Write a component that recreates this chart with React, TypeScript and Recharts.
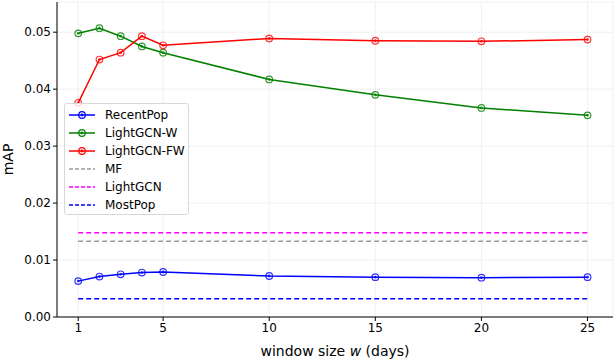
import React from 'react';
import {
  LineChart,
  Line,
  XAxis,
  YAxis,
  CartesianGrid,
} from 'recharts';

// window sizes (days)
const windowSizes = [1, 2, 3, 4, 5, 10, 15, 20, 25];
const recentPop = [0.0063, 0.0071, 0.0075, 0.0078, 0.0079, 0.0072, 0.007, 0.0069, 0.007];
const lightGcnW = [0.0498, 0.0507, 0.0493, 0.0475, 0.0464, 0.0417, 0.039, 0.0367, 0.0354];
const lightGcnFW = [0.0376, 0.0452, 0.0464, 0.0493, 0.0477, 0.0489, 0.0485, 0.0484, 0.0487];

// flat baselines, drawn from first to last window size
const baselineX = [1, 25];
const mf = [0.0133, 0.0133];
const lightGcn = [0.0148, 0.0148];
const mostPop = [0.0032, 0.0032];

const xTicks = [1, 5, 10, 15, 20, 25];
const yTicks = [0, 0.01, 0.02, 0.03, 0.04, 0.05];

const FONT = '"DejaVu Sans", sans-serif';

const rows = windowSizes.map((w, i) => ({
  w,
  recentPop: recentPop[i],
  lightGcnW: lightGcnW[i],
  lightGcnFW: lightGcnFW[i],
}));

const baseRows = (vals: number[]) => baselineX.map((w, i) => ({ w, v: vals[i] }));

const series = [
  { key: 'recentPop', name: 'RecentPop', color: '#0000ff', dashed: false },
  { key: 'lightGcnW', name: 'LightGCN-W', color: '#008000', dashed: false },
  { key: 'lightGcnFW', name: 'LightGCN-FW', color: '#ff0000', dashed: false },
  { key: 'mf', name: 'MF', color: '#999999', dashed: true },
  { key: 'lightGcn', name: 'LightGCN', color: '#ff00ff', dashed: true },
  { key: 'mostPop', name: 'MostPop', color: '#0000ff', dashed: true },
];

const makeDot = (color: string) => (props: any) => {
  const { cx, cy, key } = props;
  if (cx == null || cy == null) return <g key={key} />;
  return (
    <g key={key}>
      <circle cx={cx} cy={cy} r={3.3} fill="none" stroke={color} strokeWidth={1.2} strokeOpacity={0.8} />
      <circle cx={cx} cy={cy} r={1.4} fill={color} fillOpacity={0.8} />
    </g>
  );
};

const LegendBox = () => (
  <div
    style={{
      position: 'absolute',
      left: 64,
      top: 103,
      width: 125,
      height: 112,
      border: '1px solid #d8d8d8',
      borderRadius: 3,
      background: 'rgba(255,255,255,0.8)',
      fontFamily: FONT,
      fontSize: 12,
      boxSizing: 'border-box',
      paddingTop: 2,
    }}
  >
    {series.map((s) => (
      <div key={s.key} style={{ display: 'flex', alignItems: 'center', height: 18 }}>
        <svg width={34} height={12} style={{ marginLeft: 2 }}>
          <line
            x1={2}
            x2={28}
            y1={6}
            y2={6}
            stroke={s.color}
            strokeWidth={1.5}
            strokeDasharray={s.dashed ? '4 2' : undefined}
          />
          {!s.dashed && (
            <g>
              <circle cx={15} cy={6} r={3.3} fill="none" stroke={s.color} strokeWidth={1.2} />
              <circle cx={15} cy={6} r={1.4} fill={s.color} />
            </g>
          )}
        </svg>
        <span style={{ color: '#000', marginLeft: 4 }}>{s.name}</span>
      </div>
    ))}
  </div>
);

const XLabel = (props: any) => {
  const { viewBox } = props;
  const cx = viewBox.x + viewBox.width / 2;
  return (
    <text x={cx} y={356} textAnchor="middle" fontFamily={FONT} fontSize={14} fill="#000">
      window size <tspan fontStyle="italic">w</tspan> (days)
    </text>
  );
};

const YLabel = (props: any) => {
  const { viewBox } = props;
  const cy = viewBox.y + viewBox.height / 2;
  return (
    <text
      x={13}
      y={cy}
      textAnchor="middle"
      fontFamily={FONT}
      fontSize={14}
      fill="#000"
      transform={`rotate(-90 13 ${cy})`}
    >
      mAP
    </text>
  );
};

export default function App() {
  return (
    <div style={{ position: 'absolute', left: 0, top: 0, width: 614, height: 360, background: '#fff' }}>
      <LineChart
        width={614}
        height={360}
        data={rows}
        margin={{ top: 2, right: 1, left: 0, bottom: 0 }}
      >
        <CartesianGrid stroke="#ececec" strokeWidth={0.8} />
        <XAxis
          dataKey="w"
          type="number"
          domain={[0, 26.2]}
          ticks={xTicks}
          allowDataOverflow
          height={43}
          tick={{ fontFamily: FONT, fontSize: 12, fill: '#000' }}
          tickLine={{ stroke: '#000' }}
          tickSize={4}
          axisLine={{ stroke: '#000' }}
          label={<XLabel />}
        />
        <XAxis xAxisId="top" orientation="top" type="number" domain={[0, 26.2]} height={0} tick={false} tickLine={false} axisLine={{ stroke: '#666' }} />
        <YAxis
          type="number"
          domain={[0, 0.0553]}
          ticks={yTicks}
          allowDataOverflow
          width={57}
          tickFormatter={(v: number) => v.toFixed(2)}
          tick={{ fontFamily: FONT, fontSize: 12, fill: '#000' }}
          tickLine={{ stroke: '#000' }}
          tickSize={4}
          axisLine={{ stroke: '#000' }}
          label={<YLabel />}
        />
        <YAxis yAxisId="right" orientation="right" width={0} tick={false} tickLine={false} axisLine={{ stroke: '#666' }} />
        <Line
          data={baseRows(lightGcn)}
          dataKey="v"
          name="LightGCN"
          stroke="#ff00ff"
          strokeWidth={1.5}
          strokeDasharray="5 3"
          dot={false}
          isAnimationActive={false}
        />
        <Line
          data={baseRows(mf)}
          dataKey="v"
          name="MF"
          stroke="#999999"
          strokeWidth={1.5}
          strokeDasharray="5 3"
          dot={false}
          isAnimationActive={false}
        />
        <Line
          data={baseRows(mostPop)}
          dataKey="v"
          name="MostPop"
          stroke="#0000ff"
          strokeWidth={1.5}
          strokeDasharray="5 3"
          dot={false}
          isAnimationActive={false}
        />
        <Line
          dataKey="recentPop"
          name="RecentPop"
          stroke="#0000ff"
          strokeWidth={1.5}
          dot={makeDot('#0000ff')}
          isAnimationActive={false}
        />
        <Line
          dataKey="lightGcnW"
          name="LightGCN-W"
          stroke="#008000"
          strokeWidth={1.5}
          dot={makeDot('#008000')}
          isAnimationActive={false}
        />
        <Line
          dataKey="lightGcnFW"
          name="LightGCN-FW"
          stroke="#ff0000"
          strokeWidth={1.5}
          dot={makeDot('#ff0000')}
          isAnimationActive={false}
        />
      </LineChart>
      <LegendBox />
    </div>
  );
}
